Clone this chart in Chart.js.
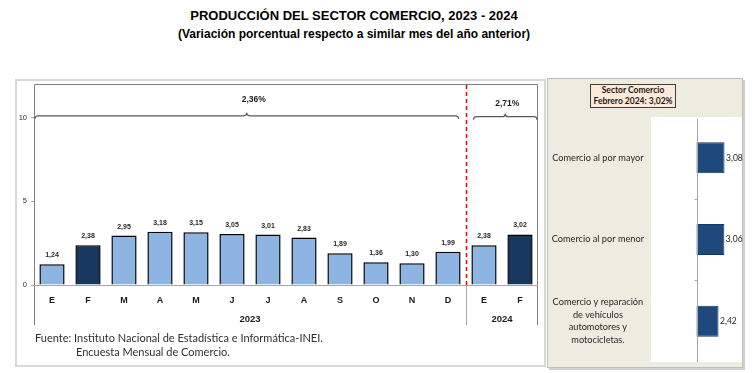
<!DOCTYPE html>
<html><head><meta charset="utf-8">
<script src="https://cdn.jsdelivr.net/npm/chart.js@4.4.1/dist/chart.umd.min.js"></script>
<style>
html,body{margin:0;padding:0;background:#fff;}
#wrap{position:relative;width:756px;height:373px;overflow:hidden;font-family:"Liberation Sans",Arial,sans-serif;}
.abs{position:absolute;}
#t1{left:0;width:708px;top:8px;text-align:center;font:bold 13px "Liberation Sans",Arial,sans-serif;color:#000;}
#t2{left:0;width:708px;top:27px;text-align:center;font:bold 12px "Liberation Sans",Arial,sans-serif;color:#000;}
#leftBox{left:15px;top:79px;width:531px;height:288px;border:2px solid #D9D9D9;box-sizing:border-box;}
#rightBox{left:547px;top:78px;width:196px;height:290px;background:#EEECE1;border:1px solid #BFBFBF;box-sizing:border-box;box-shadow:2px 2px 0 #D0D0D0;}
#c1{left:0;top:0;}
#c2{left:548px;top:79px;}
#head{left:590px;top:84px;width:86px;height:24px;background:#FDE9D9;border:1px solid #404040;box-sizing:border-box;text-align:center;font:bold 8.5px Lato,sans-serif;line-height:11px;color:#1a1a1a;white-space:nowrap;}
.src{font:11px Lato,sans-serif;color:#303030;white-space:nowrap;}
</style></head>
<body><div id="wrap">
<div id="t1" class="abs"></div>
<div id="t2" class="abs"></div>
<div id="leftBox" class="abs"></div>
<div id="rightBox" class="abs"></div>
<canvas id="c1" class="abs" width="548" height="373"></canvas>
<canvas id="c2" class="abs" width="206" height="289"></canvas>
<div id="head" class="abs"></div>
<div id="s1" class="abs src" style="left:35px;top:331px;"></div>
<div id="s2" class="abs src" style="left:76px;top:345px;"></div>
</div>
<script>
// ---- data ----
const titleText = 'PRODUCCIÓN DEL SECTOR COMERCIO, 2023 - 2024';
const subtitleText = '(Variación porcentual respecto a similar mes del año anterior)';
const months = ['E','F','M','A','M','J','J','A','S','O','N','D','E','F'];
const values = [1.24,2.38,2.95,3.18,3.15,3.05,3.01,2.83,1.89,1.36,1.30,1.99,2.38,3.02];
const darkIdx = [1,13];
const years = ['2023','2024'];
const yearSpans = [[0,11],[12,13]];
const periodLabels = ['2,36%','2,71%'];
const yTicks = [0,5,10];
const subsectors = [['Comercio al por mayor'],['Comercio al por menor'],['Comercio y reparación','de vehículos','automotores y','motocicletas.']];
const subValues = [3.08,3.06,2.42];
const headline = ['Sector Comercio','Febrero 2024: 3,02%'];
const sourceLines = ['Fuente: Instituto Nacional de Estadística e Informática-INEI.','Encuesta Mensual de Comercio.'];

document.getElementById('t1').textContent = titleText;
document.getElementById('t2').textContent = subtitleText;
document.getElementById('head').innerHTML = headline.join('<br>');
document.getElementById('s1').textContent = sourceLines[0];
document.getElementById('s2').textContent = sourceLines[1];

const fmt = v => v.toFixed(2).replace('.',',');
const LIGHT = '#8DB4E2', DARK = '#17375E';

const leftPlugin = {
  id:'leftDeco',
  afterDraw(chart){
    const ctx = chart.ctx, xs = chart.scales.x, ys = chart.scales.y, a = chart.chartArea;
    const sepBottom = a.bottom + 40;
    ctx.save();
    ctx.strokeStyle = '#7F7F7F'; ctx.lineWidth = 1;
    ctx.beginPath();
    ctx.moveTo(a.left+0.5, sepBottom); ctx.lineTo(a.left+0.5, a.top+0.5);
    ctx.lineTo(a.right-0.5, a.top+0.5); ctx.lineTo(a.right-0.5, sepBottom);
    ctx.stroke();
    ctx.strokeStyle = '#A6A6A6';
    ctx.beginPath(); ctx.moveTo(a.left, a.bottom+0.5); ctx.lineTo(a.right, a.bottom+0.5); ctx.stroke();
    const seps = [];
    yearSpans.forEach((sp,i)=>{
      if(i>0){
        const sx = Math.round((xs.getPixelForValue(sp[0]-1)+xs.getPixelForValue(sp[0]))/2)+0.5;
        seps.push(sx);
        ctx.strokeStyle = '#A6A6A6'; ctx.lineWidth = 1; ctx.setLineDash([]);
        ctx.beginPath(); ctx.moveTo(sx, a.bottom); ctx.lineTo(sx, sepBottom); ctx.stroke();
        ctx.strokeStyle = '#FF0000'; ctx.lineWidth = 1.5; ctx.setLineDash([4,3]);
        ctx.beginPath(); ctx.moveTo(sx, a.top+1); ctx.lineTo(sx, a.bottom); ctx.stroke();
        ctx.setLineDash([]);
      }
    });
    ctx.fillStyle = '#1a1a1a'; ctx.font = 'bold 9.5px "Liberation Sans", Arial, sans-serif';
    ctx.textAlign = 'center'; ctx.textBaseline = 'middle';
    yearSpans.forEach((sp,i)=>{
      const cx = (xs.getPixelForValue(sp[0])+xs.getPixelForValue(sp[1]))/2;
      ctx.fillText(years[i], cx, a.bottom+34);
    });
    ctx.strokeStyle = '#595959'; ctx.lineWidth = 1.2;
    yearSpans.forEach((sp,i)=>{
      const x0 = i===0 ? a.left+1 : seps[i-1]+7;
      const x1 = i===yearSpans.length-1 ? a.right-1 : seps[i]-8;
      const xm = (x0+x1)/2;
      const yb = ys.getPixelForValue(i===0 ? 10.1 : 10.05);
      ctx.beginPath();
      ctx.moveTo(x0, yb+3); ctx.quadraticCurveTo(x0, yb, x0+3, yb);
      ctx.lineTo(xm-3, yb); ctx.quadraticCurveTo(xm, yb, xm, yb-3);
      ctx.quadraticCurveTo(xm, yb, xm+3, yb);
      ctx.lineTo(x1-3, yb); ctx.quadraticCurveTo(x1, yb, x1, yb+3);
      ctx.stroke();
      ctx.fillStyle = '#1a1a1a'; ctx.font = 'bold 8.5px "Liberation Sans", Arial, sans-serif';
      ctx.fillText(periodLabels[i], xm + (i===0?7:2), yb - (i===0?16:13));
    });
    const meta = chart.getDatasetMeta(0);
    ctx.font = 'bold 7px "Liberation Sans", Arial, sans-serif'; ctx.fillStyle = '#262626';
    meta.data.forEach((bar,i)=>{ ctx.fillText(fmt(values[i]), bar.x, bar.y-9); });
    ctx.restore();
  }
};

new Chart(document.getElementById('c1'), {
  type:'bar',
  data:{ labels: months, datasets:[{ data: values,
    backgroundColor: values.map((v,i)=> darkIdx.includes(i)?DARK:LIGHT),
    borderColor:'#000', borderWidth:1.5, categoryPercentage:1, barPercentage:0.7 }]},
  options:{
    responsive:false, animation:false, devicePixelRatio:1,
    layout:{ padding:{ top:84, left:0, right:10, bottom:48 } },
    plugins:{ legend:{display:false}, tooltip:{enabled:false}, title:{display:false} },
    scales:{
      x:{ grid:{display:false, drawTicks:false}, border:{display:false},
          ticks:{ padding:10, color:'#1a1a1a', font:{family:'"Liberation Sans", Arial, sans-serif', size:9, weight:'bold'}, autoSkip:false, maxRotation:0 },
          afterFit(s){ s.height = 40; s.paddingLeft = 0; s.paddingRight = 0; } },
      y:{ min:0, max:12,
          afterBuildTicks(s){ s.ticks = yTicks.map(v=>({value:v})); },
          grid:{ drawOnChartArea:false, tickLength:3, color:'#A6A6A6' }, border:{display:false},
          ticks:{ padding:4, color:'#333', font:{family:'"Liberation Sans", Arial, sans-serif', size:7.5} },
          afterFit(s){ s.width = 34; s.paddingTop = 0; s.paddingBottom = 0; } }
    }
  },
  plugins:[leftPlugin]
});

const rightPlugin = {
  id:'rightDeco',
  beforeDraw(chart){
    const ctx = chart.ctx, a = chart.chartArea;
    ctx.save(); ctx.fillStyle = '#fff'; ctx.fillRect(a.left, a.top, a.right-a.left, a.bottom-a.top); ctx.restore();
  },
  afterDatasetsDraw(chart){
    const ctx = chart.ctx, xs = chart.scales.x, ys = chart.scales.y, a = chart.chartArea;
    ctx.save();
    const x0 = Math.round(xs.getPixelForValue(0))+0.5;
    ctx.strokeStyle = '#A6A6A6'; ctx.lineWidth = 1;
    ctx.beginPath(); ctx.moveTo(x0, a.top+2); ctx.lineTo(x0, a.bottom); ctx.stroke();
    for(let i=1;i<subsectors.length;i++){
      const yy = Math.round((ys.getPixelForValue(i-1)+ys.getPixelForValue(i))/2)+0.5;
      ctx.beginPath(); ctx.moveTo(x0-3, yy); ctx.lineTo(x0, yy); ctx.stroke();
    }
    const meta = chart.getDatasetMeta(0);
    ctx.fillStyle = '#262626'; ctx.font = '8.5px Lato, sans-serif';
    ctx.textAlign = 'left'; ctx.textBaseline = 'middle';
    meta.data.forEach((bar,i)=>{ ctx.fillText(fmt(subValues[i]), bar.x+1.5, bar.y); });
    ctx.restore();
  }
};

new Chart(document.getElementById('c2'), {
  type:'bar',
  data:{ labels: subsectors, datasets:[{ data: subValues, backgroundColor:'#1F497D', borderColor:'#17375E', borderWidth:1,
    categoryPercentage:1, barPercentage:0.38 }]},
  options:{
    indexAxis:'y', responsive:false, animation:false, devicePixelRatio:1,
    layout:{ padding:{ top:38, left:0, right:12, bottom:6 } },
    plugins:{ legend:{display:false}, tooltip:{enabled:false} },
    scales:{
      x:{ min:-5, max:5, display:false },
      y:{ grid:{display:false, drawTicks:false}, border:{display:false},
          ticks:{ crossAlign:'center', padding:7, color:'#262626', font:{family:'Lato, sans-serif', size:9.2, lineHeight:1.36} },
          afterFit(s){ s.width = 103; s.paddingTop = 0; s.paddingBottom = 0; } }
    }
  },
  plugins:[rightPlugin]
});
</script>
</body></html>
